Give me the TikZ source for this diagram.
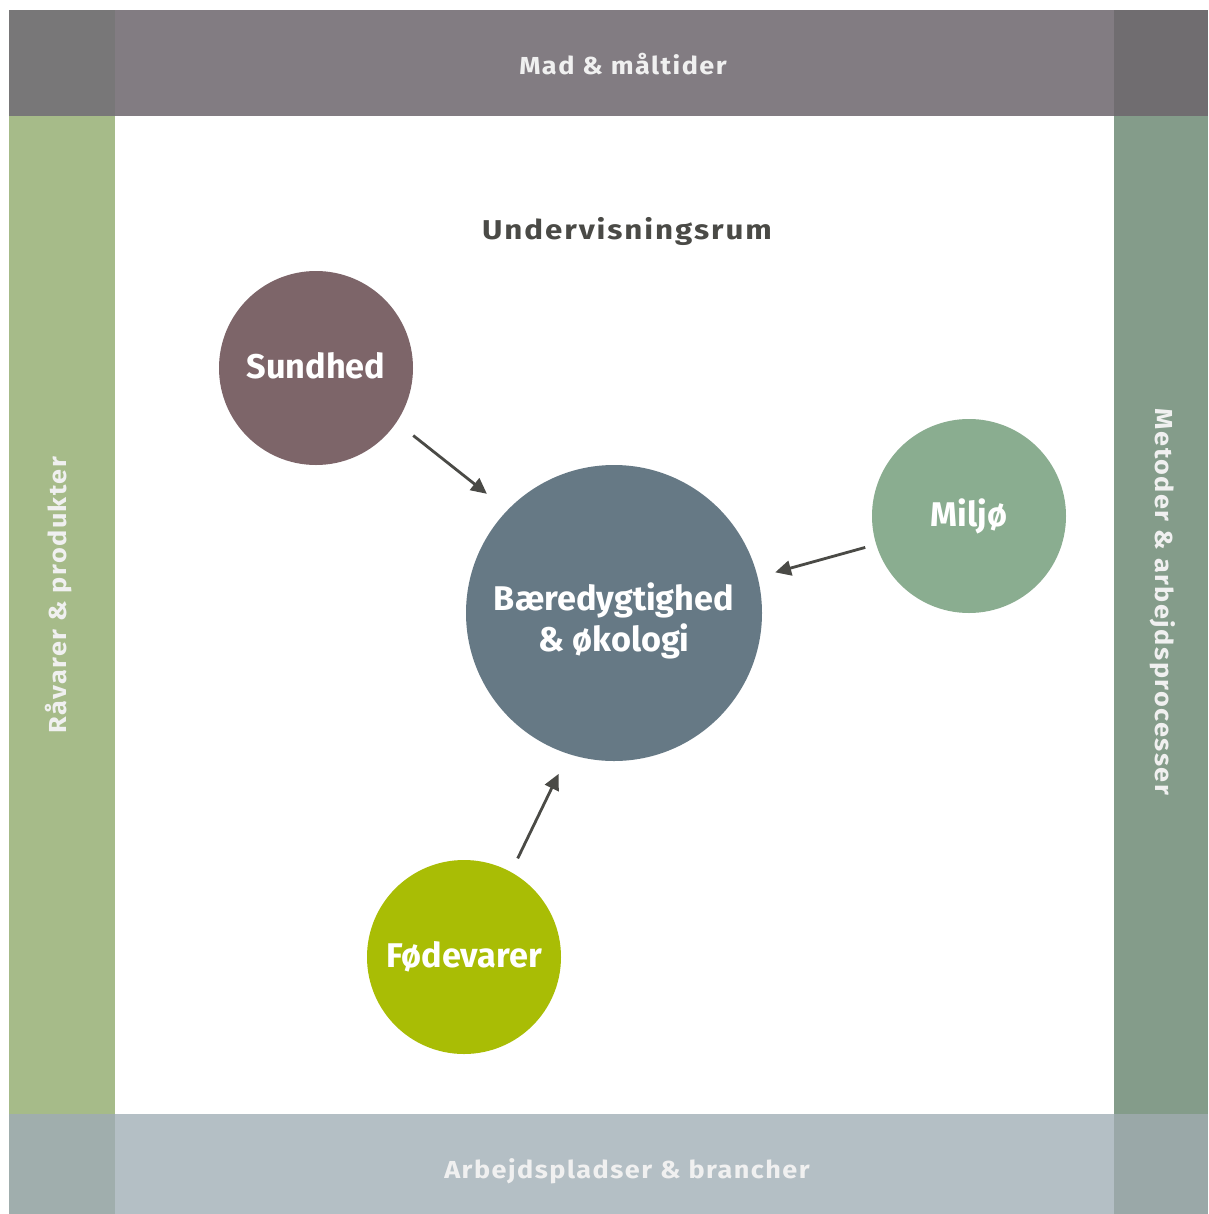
\documentclass[tikz,border=0pt]{standalone}
\usepackage{fontspec}
\setmainfont{Fira Sans}
\newfontfamily\sperret[FakeStretch=1.1, LetterSpace=6]{Fira Sans}
\newfontfamily\rumfont[FakeStretch=1.15, LetterSpace=7]{Fira Sans}
\usetikzlibrary{arrows.meta}

\definecolor{madcol}{HTML}{827C82}
\definecolor{raacol}{HTML}{A6BB89}
\definecolor{metcol}{HTML}{849C8A}
\definecolor{arbcol}{HTML}{B4BFC5}
\definecolor{hjoerne1}{HTML}{787778}
\definecolor{hjoerne2}{HTML}{706D70}
\definecolor{hjoerne3}{HTML}{A0AEAD}
\definecolor{hjoerne4}{HTML}{9AA8A8}
\definecolor{sundcol}{HTML}{7D6569}
\definecolor{baercol}{HTML}{667985}
\definecolor{miljcol}{HTML}{8AAD90}
\definecolor{foedcol}{HTML}{A9BD05}
\definecolor{pilcol}{HTML}{4A4A46}

\tikzset{
	band/.style={font=\sperret\fontsize{14}{16}\selectfont\bfseries, text=white!94!black},
	emne/.style={circle, minimum size=194*0.02cm, inner sep=0pt, text=white, font=\fontsize{19.5}{23}\selectfont\bfseries},
	pil/.style={draw=pilcol, line width=1.6pt, -{Triangle[length=9pt,width=8.5pt]}}
}

\begin{document}
\begin{tikzpicture}[x=0.02cm, y=-0.02cm]
	\useasboundingbox[fill=white] (0,0) rectangle (1208,1214);
	% the four bands round the room
	\fill[madcol] (115,10) rectangle (1114,116);
	\fill[raacol] (9,116) rectangle (115,1114);
	\fill[metcol] (1114,116) rectangle (1208,1114);
	\fill[arbcol] (115,1114) rectangle (1114,1214);
	\fill[hjoerne1] (9,10) rectangle (115,116);
	\fill[hjoerne2] (1114,10) rectangle (1208,116);
	\fill[hjoerne3] (9,1114) rectangle (115,1214);
	\fill[hjoerne4] (1114,1114) rectangle (1208,1214);
	\node[band] (mad) at (623,64) {Mad \& måltider};
	\node[band] (arb) at (627,1171) {Arbejdspladser \& brancher};
	\node[band, rotate=90] (raa) at (59,595) {Råvarer \& produkter};
	\node[band, rotate=-90] (met) at (1163,602) {Metoder \& arbejdsprocesser};
	% the room itself
	\node[text=pilcol, font=\rumfont\fontsize{15.5}{17}\selectfont\bfseries] (rum) at (627,231) {Undervisningsrum};
	\node[emne, fill=baercol, minimum size=296*0.02cm] (baer) at (614,613) {};
	\node[emne, minimum size=0pt, align=center] (baertekst) at (614,621) {Bæredygtighed\\\& økologi};
	\node[emne, fill=sundcol] (sund) at (316,368) {\raisebox{3pt}{Sundhed}};
	\node[emne, fill=miljcol] (milj) at (969,516) {Miljø};
	\node[emne, fill=foedcol] (foed) at (464,957) {Fødevarer};
	\draw[pil, shorten <=12pt, shorten >=14.8pt] (sund.-34) -- (baer.136.9);
	\draw[pil, shorten <=6.3pt, shorten >=10.2pt] (milj.197.3) -- (baer.14);
	\draw[pil, shorten <=8.5pt, shorten >=12.5pt] (foed.61.8) -- (baer.-108.9);
\end{tikzpicture}
\end{document}
